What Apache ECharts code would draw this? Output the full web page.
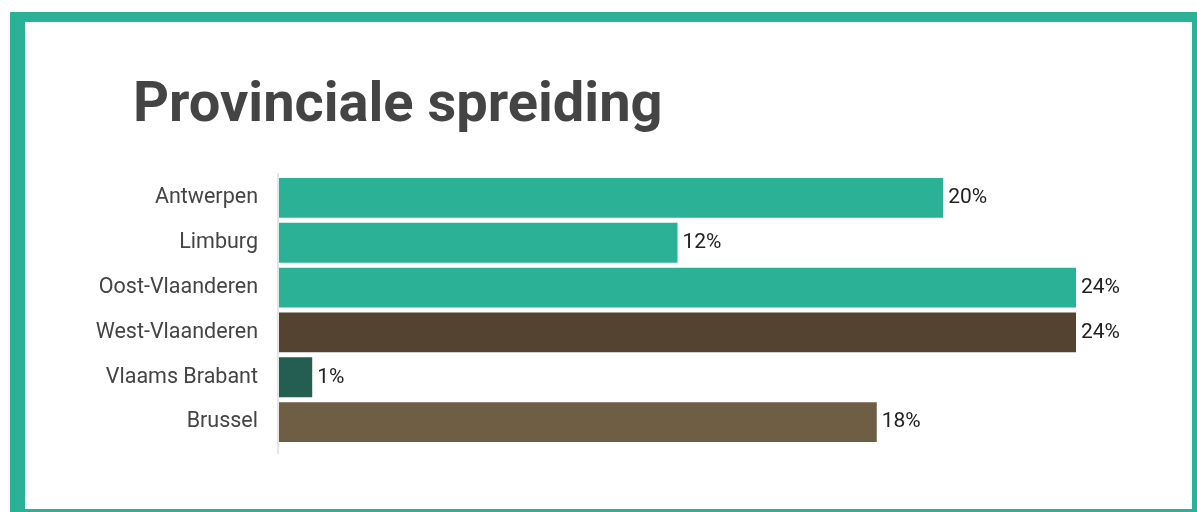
<!DOCTYPE html>
<html>
<head>
<meta charset="utf-8">
<script src="https://cdn.jsdelivr.net/npm/echarts@6/dist/echarts.min.js"></script>
<style>
html,body{margin:0;padding:0;background:#fff;}
#c{width:1197px;height:512px;}
</style>
</head>
<body>
<div id="c"></div>
<script>
var categories = ['Antwerpen', 'Limburg', 'Oost-Vlaanderen', 'West-Vlaanderen', 'Vlaams Brabant', 'Brussel'];
var values = [20, 12, 24, 24, 1, 18];
var barColors = ['#2bb196', '#2bb196', '#2bb196', '#534330', '#245e50', '#6e5e43'];
var titleText = 'Provinciale spreiding';

var chart = echarts.init(document.getElementById('c'), null, {renderer: 'canvas'});
chart.setOption({
  backgroundColor: '#fff',
  animation: false,
  title: {
    text: titleText,
    left: 128,
    top: 74,
    textStyle: {fontFamily: 'Roboto', fontWeight: 'bold', fontSize: 56, color: '#444444'}
  },
  graphic: [
    {type: 'rect', z: -10, silent: true, shape: {x: 10, y: 12, width: 1187, height: 500}, style: {fill: '#2bb196'}},
    {type: 'rect', z: -9, silent: true, shape: {x: 25, y: 22, width: 1167, height: 487}, style: {fill: '#ffffff'}},
    {type: 'line', z: 5, silent: true, shape: {x1: 278, y1: 173, x2: 278, y2: 454}, style: {stroke: '#dddddd', lineWidth: 1.5}}
  ],
  grid: {left: 279, right: 121, top: 175.5, height: 269, containLabel: false},
  xAxis: {
    type: 'value', min: 0, max: 24, show: false
  },
  yAxis: {
    type: 'category', data: categories, inverse: true,
    axisLine: {show: false}, axisTick: {show: false}, splitLine: {show: false},
    axisLabel: {fontFamily: 'Roboto', fontSize: 21.5, color: '#444444', margin: 21}
  },
  series: [{
    type: 'bar',
    data: values.map(function (v, i) { return {value: v, itemStyle: {color: barColors[i]}}; }),
    barCategoryGap: '11%',
    label: {
      show: true, position: 'right', distance: 5,
      formatter: '{c}%',
      fontFamily: 'Roboto', fontSize: 21, color: '#222222'
    }
  }]
});
</script>
</body>
</html>
